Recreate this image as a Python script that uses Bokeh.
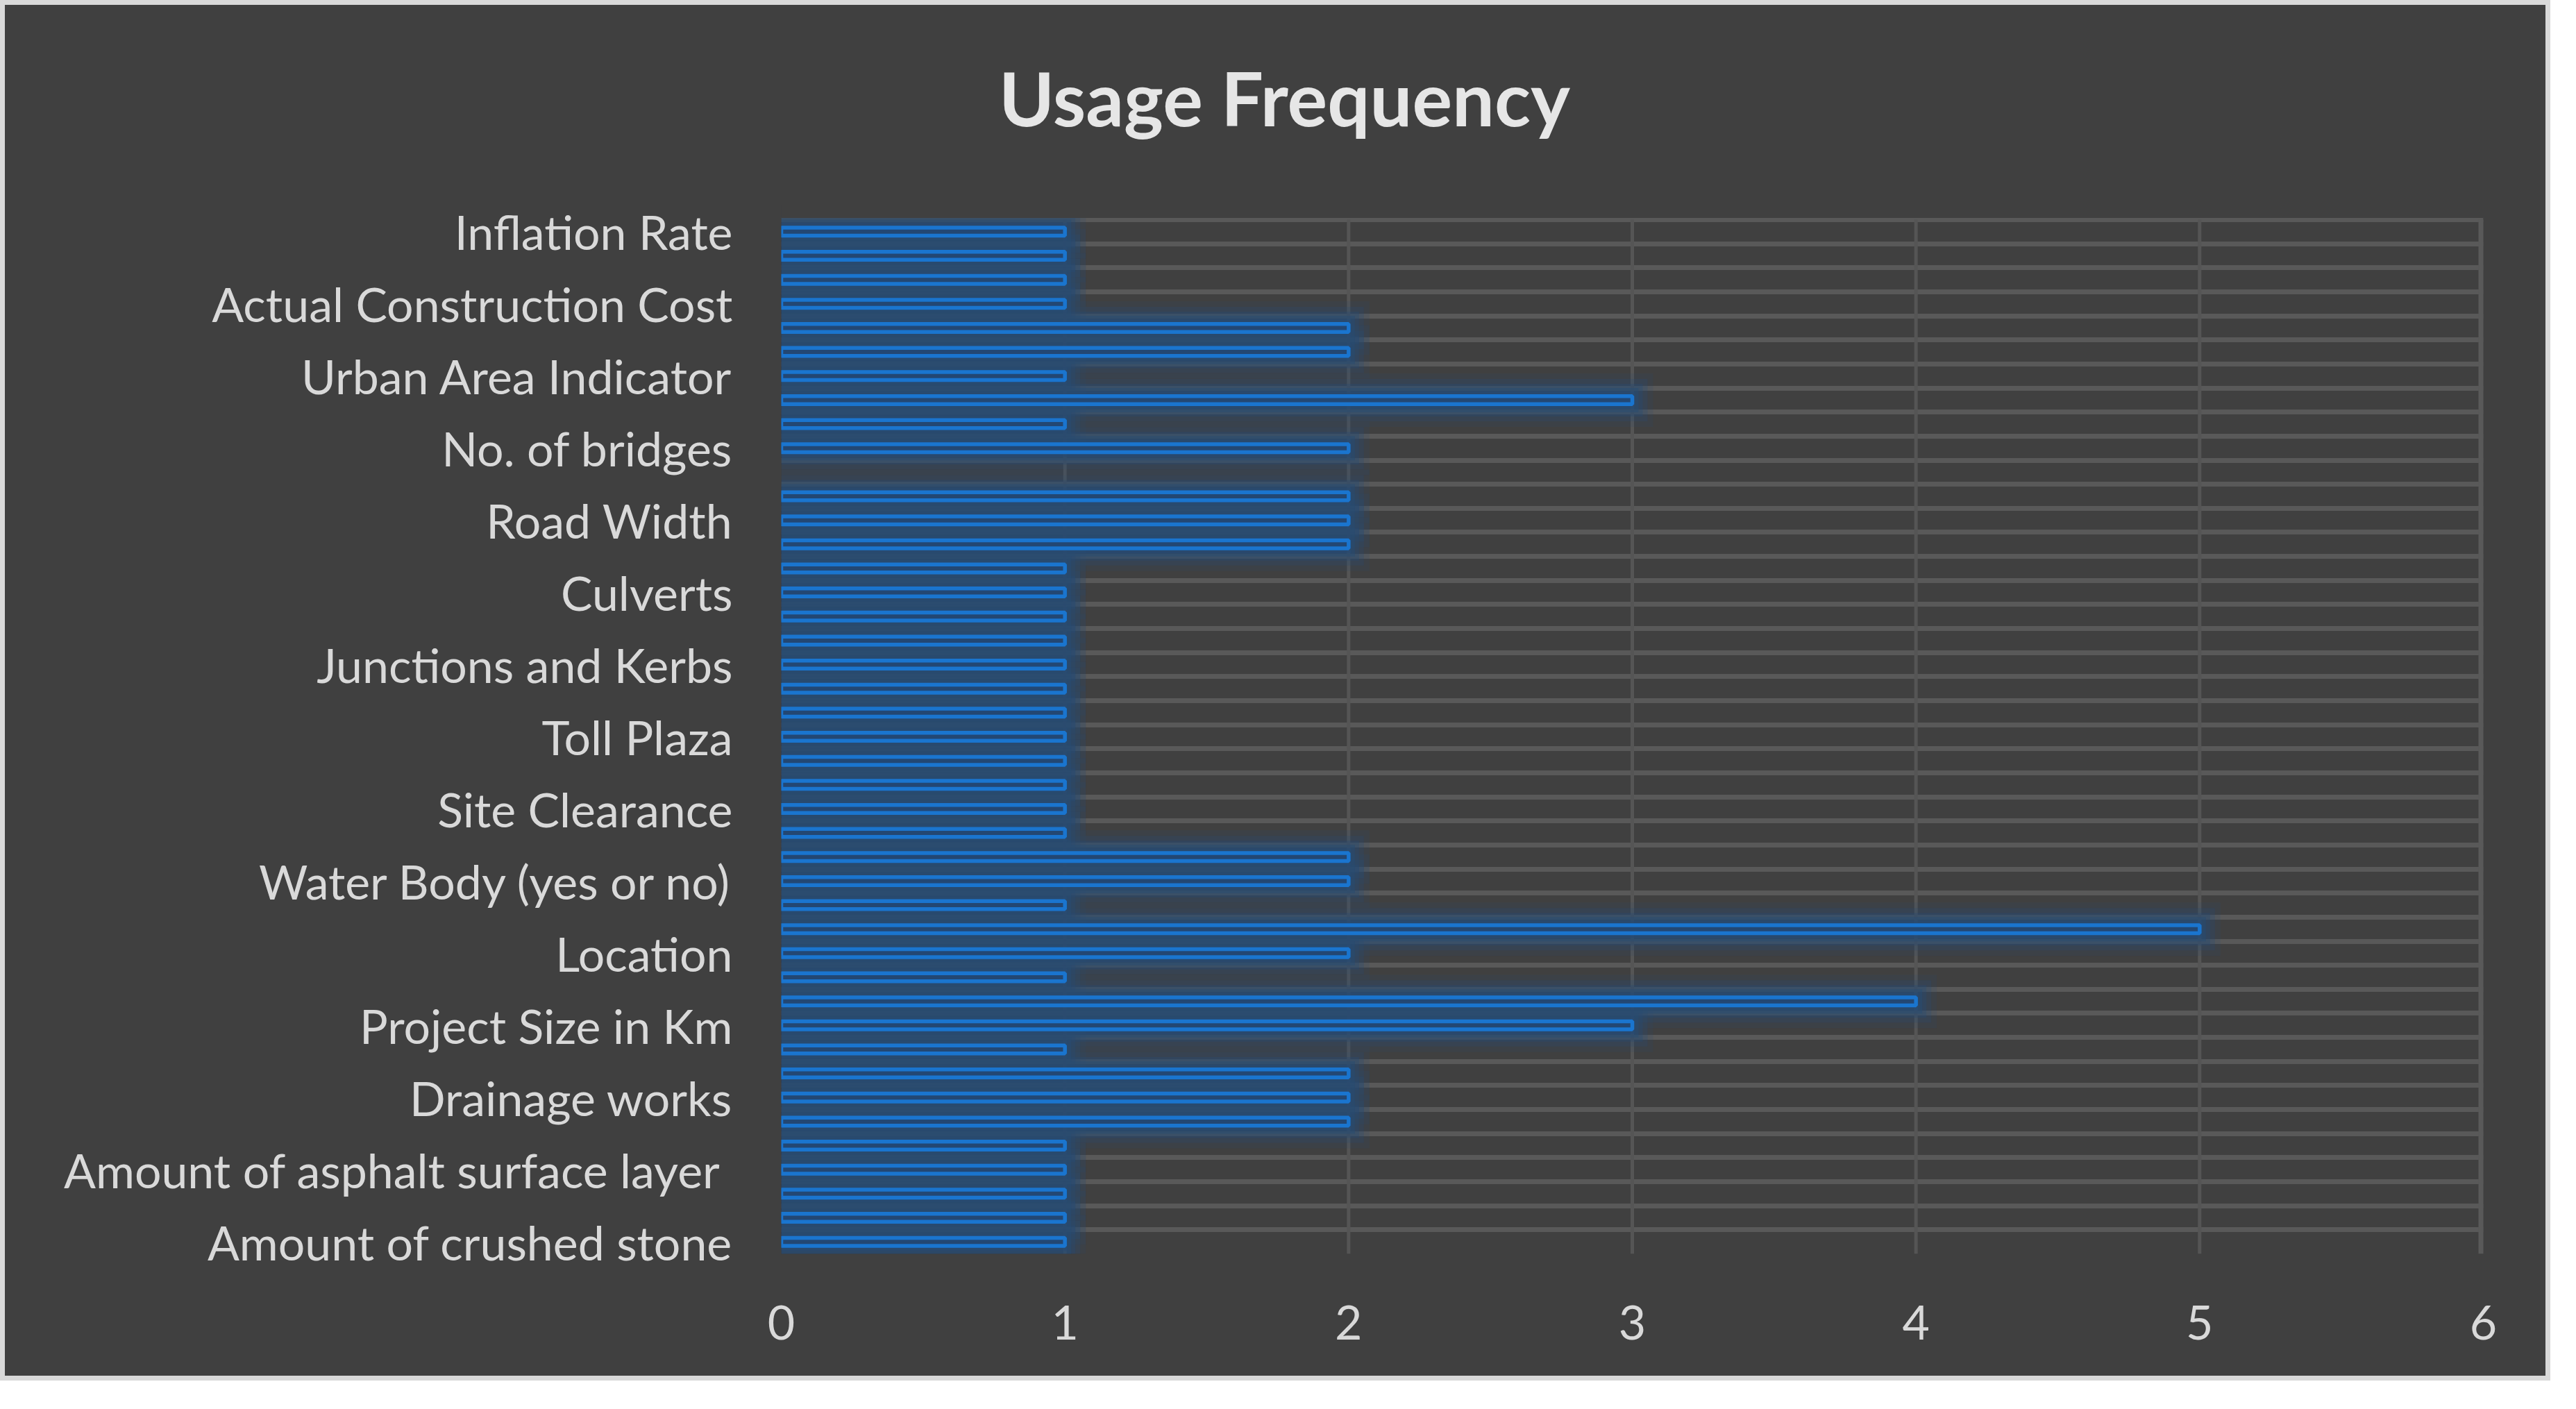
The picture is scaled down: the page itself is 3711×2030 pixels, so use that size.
from bokeh.plotting import figure
from bokeh.models import FixedTicker, Range1d, ColumnDataSource, Label
from bokeh.embed import file_html
from bokeh.resources import INLINE

# ---- data (top row of the chart first) ----
values_top_down = [1, 1, 1, 1, 2, 2, 1, 3, 1, 2, 0, 2, 2, 2,
                   1, 1, 1, 1, 1, 1, 1, 1, 1, 1, 1, 1,
                   2, 2, 1, 5, 2, 1, 4, 3, 1, 2, 2, 2,
                   1, 1, 1, 1, 1]
# labels shown on the axis (every third category), top row first
label_rows = [0, 3, 6, 9, 12, 15, 18, 21, 24, 27, 30, 33, 36, 39, 42]
label_texts = ["Inflation Rate", "Actual Construction Cost", "Urban Area Indicator",
               "No. of bridges", "Road Width", "Culverts", "Junctions and Kerbs",
               "Toll Plaza", "Site Clearance", "Water Body (yes or no)", "Location",
               "Project Size in Km", "Drainage works",
               "Amount of asphalt surface layer ", "Amount of crushed stone"]
x_ticks = [0, 1, 2, 3, 4, 5, 6]
title_text = "Usage Frequency"

n = len(values_top_down)
ypos = [n - 1 - i for i in range(n)]

BG = "#404040"
GRID = "#595959"
BLUE = "#1a75cf"

W, H = 3674, 1989
band_px = 1490.0 / n          # height of one category band in px
unit_px = 2452.0 / 6          # px per value unit
top_space = 309.0             # px between canvas top and chart area (title zone)
y_lo = -0.5
y_hi = n - 0.5
p = figure(width=W, height=H, output_backend="svg", toolbar_location=None,
           x_range=Range1d(0, 6), y_range=Range1d(y_lo, y_hi + top_space / band_px),
           min_border_left=1118, min_border_right=104,
           min_border_top=0, min_border_bottom=190)
p.styles = {"border": "7px solid #d9d9d9", "background-color": BG}
p.background_fill_color = BG
p.border_fill_color = BG
p.outline_line_color = None

# grids: horizontal lines between categories, vertical lines at value ticks
p.ygrid.ticker = FixedTicker(ticks=[i - 0.5 for i in range(n + 1)])
p.ygrid.grid_line_color = GRID
p.ygrid.grid_line_width = 7
p.xgrid.visible = False
vx = [t for t in x_ticks if t > 0]
p.segment(x0=vx, y0=[y_lo] * len(vx), x1=vx, y1=[y_hi] * len(vx),
          line_color=["#555555"] * (len(vx) - 1) + [GRID],
          line_width=[5] * (len(vx) - 1) + [14])

# axes
p.xaxis.ticker = FixedTicker(ticks=x_ticks)
p.yaxis.ticker = FixedTicker(ticks=[n - 1 - r for r in label_rows])
p.yaxis.major_label_overrides = {n - 1 - r: t for r, t in zip(label_rows, label_texts)}
for ax in (p.xaxis, p.yaxis):
    ax.axis_line_color = None
    ax.major_tick_line_color = None
    ax.minor_tick_line_color = None
    ax.major_label_text_color = "#d9d9d9"
    ax.major_label_text_font = "Lato"
    ax.major_label_text_font_size = "68px"
p.yaxis.major_label_standoff = 64
p.xaxis.major_label_standoff = 68

# bars with glow
vals = [v for v in values_top_down]
src = ColumnDataSource(dict(y=[ypos[i] for i in range(n) if vals[i] > 0],
                            v=[vals[i] for i in range(n) if vals[i] > 0]))
bar_px = 17.0
for ext, a in [(30, 0.15), (22, 0.25), (15, 0.35), (9, 0.5), (4, 0.6)]:
    gsrc = ColumnDataSource(dict(y=src.data["y"],
                                 r=[v + ext / unit_px for v in src.data["v"]]))
    p.hbar(y="y", left=0, right="r", height=(bar_px + 2 * ext) / band_px, source=gsrc,
           fill_color="#284b72", fill_alpha=a, line_color=None)

p.hbar(y="y", left=0, right="v", height=(bar_px - 5.5) / band_px, source=src,
       fill_color="#234773", line_color=BLUE, line_width=5.5)

# plain background above the chart area (title zone)
p.quad(left=[-1], right=[7], bottom=[y_hi + 3.5 / band_px], top=[y_hi + 2 * top_space / band_px],
       fill_color=BG, line_color=BG, line_width=2)

# title, centred on the whole chart (px from frame bottom-left)
p.add_layout(Label(x=725, y=1667, x_units="screen", y_units="screen", text=title_text,
                   text_align="center", text_baseline="alphabetic",
                   text_font="Lato", text_font_style="bold", text_font_size="108px",
                   text_color="#e6e6e6"))

open("out.html", "w").write(file_html(p, INLINE))
